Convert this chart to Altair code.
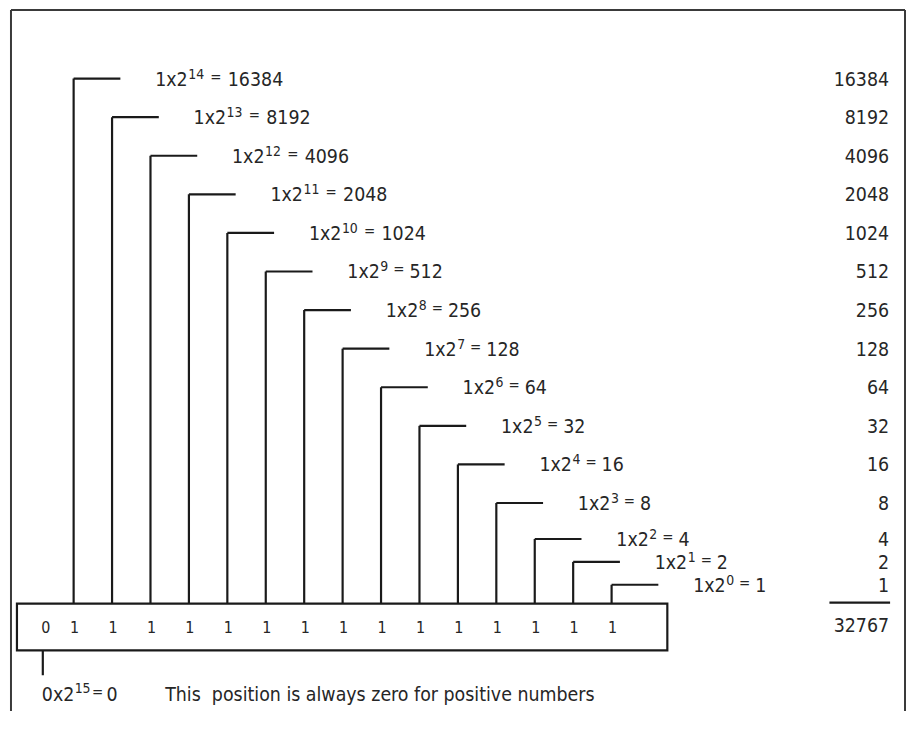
import altair as alt
import pandas as pd

# ---------------- data ----------------
exponents = [14, 13, 12, 11, 10, 9, 8, 7, 6, 5, 4, 3, 2, 1, 0]
place_values = [16384, 8192, 4096, 2048, 1024, 512, 256, 128, 64, 32, 16, 8, 4, 2, 1]
bit_digits = [0, 1, 1, 1, 1, 1, 1, 1, 1, 1, 1, 1, 1, 1, 1, 1]  # bit 15 ... bit 0
sign_exponent = 15
sign_value = 0
total_value = 32767
note_text = "This\u00a0 position is always zero for positive numbers"

# ---------------- layout ----------------
W, H = 903, 705
ORG = 8
COL0, COL_STEP = 74, 38.64
ROW0, ROW_STEP = 77, 38.8
SIGN_X = 43
ARM = 47
LABEL_GAP = 82
BOX_L, BOX_R, BOX_T, BOX_B = 17, 671, 605, 652
RIGHT_X = 894
FRAME_L, FRAME_R, FRAME_T, FRAME_B = 11, 910, 8, ORG + H
FONT = "DejaVu Sans Condensed, Liberation Sans Narrow, DejaVu Sans, sans-serif"
MAIN, SUP, EQ, BOXF, NOTE = 19.5, 14, 15, 16, 19.5
DIGIT_EM = 0.572
BASE_EM = 0.572 + 0.533 + 0.572
INK = "#1a1a1a"
TXT = "#262626"


def col_x(k):
    return COL0 + (14 - k) * COL_STEP


def row_y(k):
    return min(ROW0 + (14 - k) * ROW_STEP, 586 - 23 * k)


segs = []
texts = []
for k, v in zip(exponents, place_values):
    x, y = col_x(k), row_y(k)
    segs.append(dict(x=x, x2=x, y=BOX_T, y2=y))
    segs.append(dict(x=x, x2=x + ARM, y=y, y2=y))
    lx = x + LABEL_GAP
    n = len(str(k))
    sup_x = lx + BASE_EM * MAIN + 0.5
    val_x = lx + 30 + 10.5 * n + 22
    eq_c = (sup_x + DIGIT_EM * SUP * n + val_x) / 2
    texts.append(dict(x=lx, y=y + 7, t="1x2", s=MAIN, a="left"))
    texts.append(dict(x=sup_x, y=y, t=str(k), s=SUP, a="left"))
    texts.append(dict(x=eq_c, y=y + 3, t="=", s=EQ, a="center"))
    texts.append(dict(x=val_x, y=y + 7, t=str(v), s=MAIN, a="left"))
    texts.append(dict(x=RIGHT_X, y=y + 7, t=str(v), s=MAIN, a="right"))

# bit digits inside the box
for i, d in enumerate(bit_digits):
    k = 15 - i
    cx = SIGN_X + 3 if k == 15 else col_x(k) + 1
    texts.append(dict(x=cx, y=635, t=str(d), s=BOXF, a="center"))

# total
segs.append(dict(x=834, x2=895, y=604, y2=604))
texts.append(dict(x=RIGHT_X, y=634, t=str(total_value), s=MAIN, a="right"))

# sign bit note
segs.append(dict(x=SIGN_X, x2=SIGN_X, y=BOX_B, y2=677))
texts.append(dict(x=42, y=703, t=f"{sign_value}x2", s=NOTE, a="left"))
texts.append(dict(x=75, y=695, t=str(sign_exponent), s=14, a="left"))
texts.append(dict(x=98, y=699, t="=", s=15, a="center"))
texts.append(dict(x=107, y=703, t=str(sign_value), s=NOTE, a="left"))
texts.append(dict(x=166, y=703, t=note_text, s=NOTE, a="left"))

# frame
frame = pd.DataFrame([
    dict(x=FRAME_L, x2=FRAME_L, y=FRAME_T, y2=FRAME_B),
    dict(x=FRAME_L, x2=FRAME_R, y=FRAME_T, y2=FRAME_T),
    dict(x=FRAME_R, x2=FRAME_R, y=FRAME_T, y2=FRAME_B),
])

seg_df = pd.DataFrame(segs)
txt_df = pd.DataFrame(texts)
box_df = pd.DataFrame([dict(x=BOX_L, x2=BOX_R, y=BOX_T, y2=BOX_B)])

xs = alt.Scale(domain=[ORG, ORG + W], nice=False, zero=False)
ys = alt.Scale(domain=[ORG, ORG + H], nice=False, zero=False, reverse=True)


def seg_enc(ch):
    return ch.encode(
        x=alt.X("x:Q", scale=xs, axis=None), x2="x2:Q",
        y=alt.Y("y:Q", scale=ys, axis=None), y2="y2:Q",
    )


frame_layer = seg_enc(alt.Chart(frame).mark_rule(color="#3a3a3a", strokeWidth=2))
seg_layer = seg_enc(alt.Chart(seg_df).mark_rule(color=INK, strokeWidth=2.2))
box_layer = seg_enc(alt.Chart(box_df).mark_rect(fill="white", stroke=INK, strokeWidth=2.2))

text_layers = []
for al in ["left", "center", "right"]:
    sub = txt_df[txt_df["a"] == al]
    text_layers.append(
        alt.Chart(sub).mark_text(align=al, baseline="alphabetic", font=FONT, color=TXT).encode(
            x=alt.X("x:Q", scale=xs, axis=None),
            y=alt.Y("y:Q", scale=ys, axis=None),
            text="t:N",
            size=alt.Size("s:Q", scale=None, legend=None),
        )
    )

chart = alt.layer(frame_layer, seg_layer, box_layer, *text_layers).properties(
    width=W, height=H, padding=0, autosize=alt.AutoSizeParams(type="none"),
    background="white",
).configure_view(strokeWidth=0)

chart.save("out.html", embed_options={"renderer": "svg", "actions": False})
